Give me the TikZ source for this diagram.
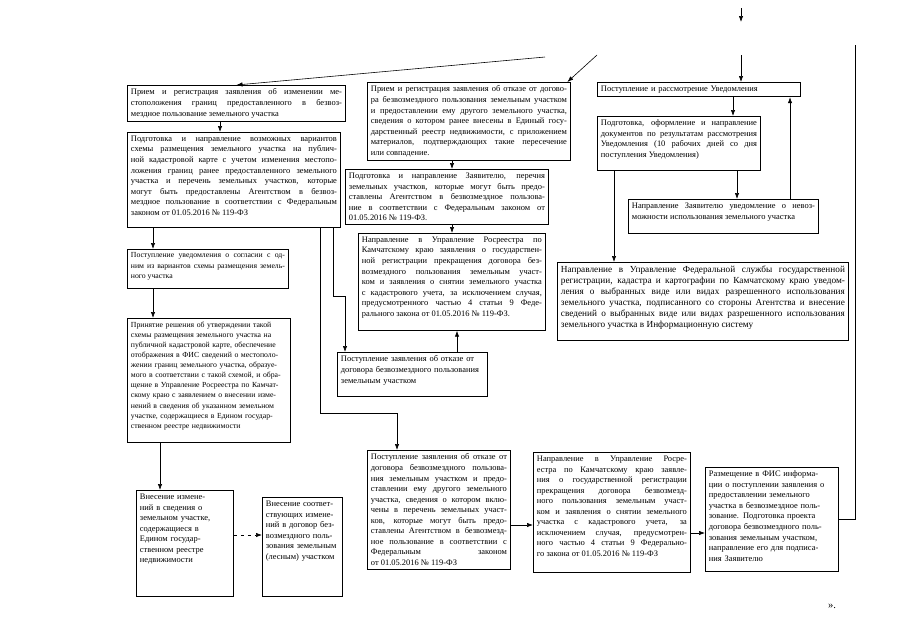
\documentclass[tikz,border=0pt]{standalone}
\usepackage{fontspec}
\setmainfont{Liberation Serif}
\usetikzlibrary{arrows.meta,positioning}
\newcommand{\pad}[1]{\rule[-#1]{0pt}{0pt}}
\hbadness=10000

\begin{document}
\begin{tikzpicture}[x=0.03cm,y=-0.03cm,
        box/.style={rectangle,draw,line width=0.7pt,anchor=north west,align=justify,
          inner xsep=3pt,inner ysep=3pt,font=\fontsize{7.2}{9}\selectfont},
        lbox/.style={box,align=left},
        small/.style={font=\fontsize{6.6}{8.6}\selectfont},
        large/.style={font=\fontsize{7.9}{9.4}\selectfont},
        arrow/.style={-{Latex[length=1.8mm,width=1.3mm]},line width=0.5pt},
        line/.style={line width=0.5pt}]
        \useasboundingbox (0,0) rectangle (905,640);
        \coordinate (t0) at (741,8);
        \coordinate (t1) at (741,22);
        \coordinate (f1) at (545,57);
        \coordinate (f2) at (597,55);
        \coordinate (f3) at (741,55);
        \coordinate (r0) at (855,45);

        \node[box,text width=6.33cm] (b1) at (127,85) {Прием и регистрация заявления об изменении ме-\linebreak стоположения границ предоставленного в безвоз-\linebreak мездное пользование земельного участка};
        \node[box,text width=6.18cm] (b2) at (127,132) {Подготовка и направление возможных вариантов\linebreak схемы размещения земельного участка на публич-\linebreak ной кадастровой карте с учетом изменения местопо-\linebreak ложения границ ранее предоставленного земельного\linebreak участка и перечень земельных участков, которые\linebreak могут быть предоставлены Агентством в безвоз-\linebreak мездное пользование в соответствии с Федеральным\linebreak законом от 01.05.2016 № 119-ФЗ\pad{7pt}};
        \node[box,text width=5.88cm] (b3) at (367,82) {Прием и регистрация заявления об отказе от догово-\linebreak ра безвозмездного пользования земельным участком\linebreak и предоставлении ему другого земельного участка,\linebreak сведения о котором ранее внесены в Единый госу-\linebreak дарственный реестр недвижимости, с приложением\linebreak материалов, подтверждающих такие пересечение\linebreak или совпадение.};
        \node[box,text width=5.88cm] (b4) at (345,169) {Подготовка и направление Заявителю, перечня\linebreak земельных участков, которые могут быть предо-\linebreak ставлены Агентством в безвозмездное пользова-\linebreak ние в соответствии с Федеральным законом от\linebreak 01.05.2016 № 119-ФЗ.};
        \node[box,text width=5.40cm] (b5) at (358,233) {Направление в Управление Росреестра по\linebreak Камчатскому краю заявления о государствен-\linebreak ной регистрации прекращения договора без-\linebreak возмездного пользования земельным участ-\linebreak ком и заявления о снятии земельного участка\linebreak с кадастрового учета, за исключением случая,\linebreak предусмотренного частью 4 статьи 9 Феде-\linebreak рального закона от 01.05.2016 № 119-ФЗ.\pad{9pt}};
        \node[lbox,text width=4.3cm] (b6) at (337,352) {Поступление заявления об отказе от\\ договора безвозмездного пользования\\ земельным участком\pad{8.5pt}};
        \node[lbox,text width=5.88cm] (b7) at (597,82) {Поступление и рассмотрение Уведомления};
        \node[box,text width=4.68cm] (b8) at (597,116) {Подготовка, оформление и направление\linebreak документов по результатам рассмотрения\linebreak Уведомления (10 рабочих дней со дня\linebreak поступления Уведомления)\pad{8.5pt}};
        \node[box,text width=5.49cm] (b9) at (628,199) {Направление Заявителю уведомление о невоз-\linebreak можности использования земельного участка\pad{9pt}};
        \node[box,large,text width=8.52cm] (b10) at (557,262) {Направление в Управление Федеральной службы государственной\linebreak регистрации, кадастра и картографии по Камчатскому краю уведом-\linebreak ления о выбранных виде или видах разрешенного использования\linebreak земельного участка, подписанного со стороны Агентства и внесение\linebreak сведений о выбранных виде или видах разрешенного использования\linebreak земельного участка в Информационную систему\pad{8pt}};
        \node[box,small,text width=4.62cm] (b11) at (127,249) {Поступление уведомления о согласии с од-\linebreak ним из вариантов схемы размещения земель-\linebreak ного участка\pad{6pt}};
        \node[lbox,small,text width=4.68cm] (b12) at (127,318) {Принятие решения об утверждении такой\\ схемы размещения земельного участка на\\ публичной кадастровой карте, обеспечение\\ отображения в ФИС сведений о местополо-\\ жении границ земельного участка, образуе-\\ мого в соответствии с такой схемой, и обра-\\ щение в Управление Росреестра по Камчат-\\ скому краю с заявлением о внесении изме-\\ нений в сведения об указанном земельном\\ участке, содержащиеся в Едином государ-\\ ственном реестре недвижимости\pad{9pt}};
        \node[lbox,text width=2.70cm] (b13) at (136,490) {Внесение измене-\\ ний в сведения о\\ земельном участке,\\ содержащиеся в\\ Едином государ-\\ ственном реестре\\ недвижимости\pad{25.5pt}};
        \node[lbox,text width=2.19cm] (b14) at (262,497) {Внесение соответ-\\ ствующих измене-\\ ний в договор без-\\ возмездного поль-\\ зования земельным\\ (лесным) участком\pad{29pt}};
        \node[box,text width=4.08cm] (b15) at (367,450) {Поступление заявления об отказе от\linebreak договора безвозмездного пользова-\linebreak ния земельным участком и предо-\linebreak ставлении ему другого земельного\linebreak участка, сведения о котором вклю-\linebreak чены в перечень земельных участ-\linebreak ков, которые могут быть предо-\linebreak ставлены Агентством в безвозмезд-\linebreak ное пользование в соответствии с\linebreak Федеральным законом\linebreak от 01.05.2016 № 119-ФЗ};
        \node[box,text width=4.50cm] (b16) at (533,452) {Направление в Управление Росре-\linebreak естра по Камчатскому краю заявле-\linebreak ния о государственной регистрации\linebreak прекращения договора безвозмезд-\linebreak ного пользования земельным участ-\linebreak ком и заявления о снятии земельного\linebreak участка с кадастрового учета, за\linebreak исключением случая, предусмотрен-\linebreak ного частью 4 статьи 9 Федерально-\linebreak го закона от 01.05.2016 № 119-ФЗ\pad{11pt}};
        \node[lbox,text width=3.78cm] (b17) at (705,467) {Размещение в ФИС информа-\\ ции о поступлении заявления о\\ предоставлении земельного\\ участка в безвозмездное поль-\\ зование. Подготовка проекта\\ договора безвозмездного поль-\\ зования земельным участком,\\ направление его для подписа-\\ ния Заявителю\pad{6pt}};
        \node[font=\fontsize{9}{10}\selectfont] (q) at (832,606) {».};

        \draw[arrow] (t0) -- (t1);
        \draw[arrow] (f1) -- (b1.north);
        \draw[arrow] (f2) -- ([xshift=-3pt]b3.north east);
        \draw[arrow] (f3) -- (f3 |- b7.north);
        \draw[arrow] (b1.south -| 220,0) -- (b2.north -| 220,0);
        \draw[arrow] (b3.south -| 452,0) -- (b4.north -| 452,0);
        \draw[arrow] (b4.south -| 452,0) -- (b5.north -| 452,0);
        \draw[arrow] (b7.south -| 733,0) -- (b8.north -| 733,0);
        \draw[arrow] (b8.south -| 737,0) -- (b9.north -| 737,0);
        \draw[arrow] (b9.north -| 790,0) -- (b7.south -| 790,0);
        \draw[arrow] (b8.south -| 614,0) -- (b10.north -| 614,0);
        \draw[arrow] (b2.south -| 153,0) -- (b11.north -| 153,0);
        \draw[arrow] (b11.south -| 153,0) -- (b12.north -| 153,0);
        \draw[arrow] (b12.south -| 160,0) -- (b13.north -| 160,0);
        \draw[arrow,dashed] (b13.east |- 0,535) -- (b14.west |- 0,535);
        \draw[arrow] (b2.south -| 333,0) -- (333,296) -- (345,296) -- (b6.north -| 345,0);
        \draw[arrow] (b2.south -| 320,0) -- (320,413) -- (397,413) -- (b15.north -| 397,0);
        \draw[arrow] (b6.north -| 457,0) -- (b5.south -| 457,0);
        \draw[arrow] (b15.east |- 0,525) -- (b16.west |- 0,525);
        \draw[arrow] (b16.east |- 0,533) -- (b17.west |- 0,533);
        \draw[line] (r0) |- (b17.east);
      \end{tikzpicture}
\end{document}
